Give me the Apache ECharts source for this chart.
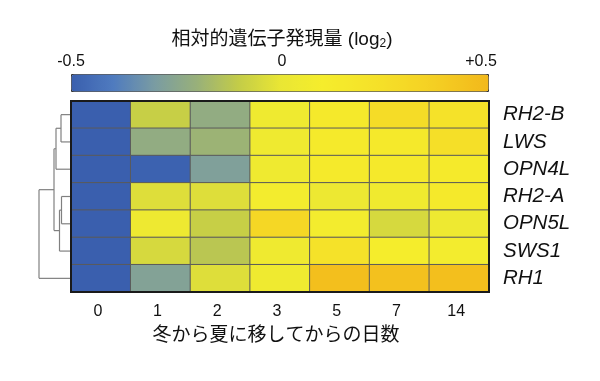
<!DOCTYPE html>
<html>
<head>
<meta charset="utf-8">
<script src="https://cdn.jsdelivr.net/npm/echarts@6/dist/echarts.min.js"></script>
<style>
  html, body { margin: 0; padding: 0; background: #fff; }
  #main { width: 600px; height: 381px; }
</style>
</head>
<body>
<div id="main"></div>
<script>
var days = ['0', '1', '2', '3', '5', '7', '14'];
var genes = ['RH2-B', 'LWS', 'OPN4L', 'RH2-A', 'OPN5L', 'SWS1', 'RH1'];

// log2 relative expression, one array per gene (order = days)
var rh2b  = [-0.5, -0.09, -0.22, 0.05, 0.15, 0.27, 0.22];
var lws   = [-0.5, -0.22, -0.19, 0.05, 0.13, 0.15, 0.25];
var opn4l = [-0.5, -0.49, -0.28, 0.05, 0.13, 0.15, 0.13];
var rh2a  = [-0.5, -0.03, -0.03, 0.08, 0.03, 0.06, 0.15];
var opn5l = [-0.5, 0.04, -0.09, 0.31, 0.08, -0.05, 0.04];
var sws1  = [-0.5, -0.05, -0.12, 0.05, 0.22, 0.1, 0.08];
var rh1   = [-0.5, -0.27, -0.03, 0.05, 0.46, 0.45, 0.46];
var rows = [rh2b, lws, opn4l, rh2a, opn5l, sws1, rh1];

// dendrogram: each merge joins left+right at a given height ('mN' = merge N)
var mergeLeft   = ['RH2-B', 'm0', 'RH2-A', 'm2', 'm1', 'm4'];
var mergeRight  = ['LWS', 'OPN4L', 'OPN5L', 'SWS1', 'm3', 'RH1'];
var mergeHeight = [10, 15, 9.5, 11.5, 17, 32];

var scaleColors = ['#3a5fae', '#4f7bbf', '#7a9ca2', '#98b07a', '#c3cc48', '#e9e634',
                   '#f5ed2c', '#f5e42a', '#f5d926', '#f4ca21', '#f2b81b'];

var FONT = "'Liberation Sans', Arial, 'Noto Sans CJK JP', sans-serif";

var heat = [];
rows.forEach(function (r, ri) {
  r.forEach(function (v, ci) { heat.push([ci, ri, v]); });
});

// dendrogram segments
var nodes = {};
genes.forEach(function (g, i) { nodes[g] = { h: 0, y: i }; });
var segs = [];
mergeLeft.forEach(function (a, i) {
  var A = nodes[a], B = nodes[mergeRight[i]], h = mergeHeight[i];
  segs.push([A.h, A.y, h, A.y]);
  segs.push([B.h, B.y, h, B.y]);
  segs.push([h, A.y, h, B.y]);
  nodes['m' + i] = { h: h, y: (A.y + B.y) / 2 };
});

var chart = echarts.init(document.getElementById('main'));
chart.setOption({
  animation: false,
  textStyle: { fontFamily: FONT },
  grid: [
    { left: 71, top: 101, width: 418, height: 191, show: true, z: 5,
      backgroundColor: 'transparent', borderColor: '#1a1a1a', borderWidth: 2 },
    { left: 39, top: 101, width: 32, height: 191 }
  ],
  xAxis: [
    { type: 'category', gridIndex: 0, data: days,
      axisLine: { show: false }, axisTick: { show: false }, splitLine: { show: false },
      axisLabel: { fontSize: 16, color: '#111', margin: 12, padding: [0, 6, 0, 0], fontFamily: FONT },
      name: '冬から夏に移してからの日数', nameLocation: 'middle', nameGap: 34,
      nameTextStyle: { fontSize: 19, color: '#111', fontFamily: FONT, padding: [0, 8, 0, 0] } },
    { type: 'value', gridIndex: 1, min: 0, max: 32, inverse: true, show: false }
  ],
  yAxis: [
    { type: 'category', gridIndex: 0, data: genes, inverse: true, position: 'right',
      axisLine: { show: false }, axisTick: { show: false }, splitLine: { show: false },
      axisLabel: { interval: 0, hideOverlap: false, fontSize: 20.5, fontStyle: 'italic',
                   color: '#111', margin: 14, fontFamily: FONT } },
    { type: 'value', gridIndex: 1, min: -0.5, max: 6.5, inverse: true, show: false }
  ],
  visualMap: {
    type: 'continuous', min: -0.5, max: 0.5, orient: 'horizontal',
    left: 71, top: 74, itemWidth: 17, itemHeight: 417,
    calculable: false, text: null, showLabel: false, seriesIndex: 0,
    padding: 0, borderColor: '#333', borderWidth: 1,
    inRange: { color: scaleColors }
  },
  graphic: [
    { type: 'text', x: 282, y: 40, style: {
        text: '相対的遺伝子発現量 (log{s|2})', font: '19px ' + FONT, fill: '#111',
        textAlign: 'center', textVerticalAlign: 'middle',
        rich: { s: { fontSize: 12, fontFamily: FONT, padding: [7, 0, 0, 0] } } } },
    { type: 'text', x: 71, y: 62, style: { text: '-0.5', font: '16px ' + FONT, fill: '#111',
        textAlign: 'center', textVerticalAlign: 'middle' } },
    { type: 'text', x: 282, y: 62, style: { text: '0', font: '16px ' + FONT, fill: '#111',
        textAlign: 'center', textVerticalAlign: 'middle' } },
    { type: 'text', x: 481, y: 62, style: { text: '+0.5', font: '16px ' + FONT, fill: '#111',
        textAlign: 'center', textVerticalAlign: 'middle' } }
  ],
  series: [
    { type: 'heatmap', xAxisIndex: 0, yAxisIndex: 0, data: heat,
      itemStyle: { borderColor: '#5a5a5a', borderWidth: 1 } },
    { type: 'custom', xAxisIndex: 1, yAxisIndex: 1, data: segs,
      encode: { x: [0, 2], y: [1, 3] },
      renderItem: function (params, api) {
        var p1 = api.coord([api.value(0), api.value(1)]);
        var p2 = api.coord([api.value(2), api.value(3)]);
        return { type: 'line', shape: { x1: p1[0], y1: p1[1], x2: p2[0], y2: p2[1] },
                 style: { stroke: '#808080', lineWidth: 1.2 } };
      } }
  ]
});
</script>
</body>
</html>
